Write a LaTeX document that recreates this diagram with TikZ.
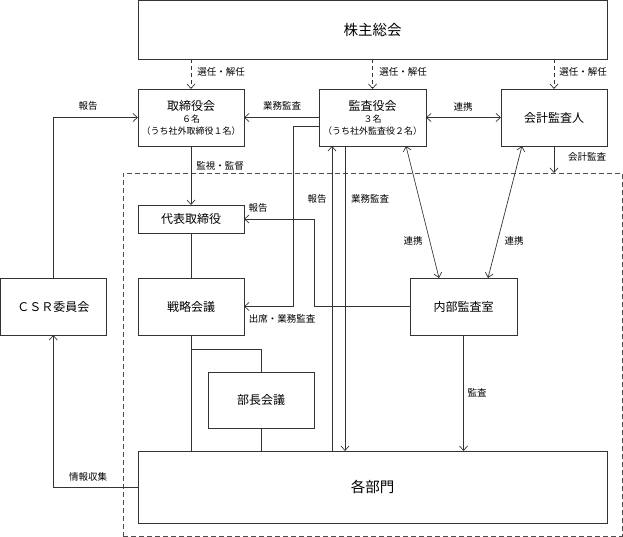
\documentclass[tikz,border=0pt]{standalone}
\usepackage{fontspec}
\setmainfont{Noto Sans CJK JP}
\usetikzlibrary{arrows.meta,calc}
\newcommand\smalljp{\fontsize{9}{12}\selectfont}
\begin{document}
\begin{tikzpicture}[x=1pt,y=-1pt,
  line/.style={draw=black!80,line width=0.7pt},
  box/.style={line,fill=white,inner sep=0pt,outer sep=0pt,align=center,font=\fontsize{12}{12}\selectfont},
  bigbox/.style={box,font=\fontsize{14.5}{16}\selectfont},
  arr/.style={line,-{Straight Barb[length=4.5pt,width=8pt]}},
  arrr/.style={line,{Straight Barb[length=4.5pt,width=8pt]}-{Straight Barb[length=4.5pt,width=8pt]}},
  darr/.style={arr,dash pattern=on 4pt off 3pt},
  frame/.style={draw=black!70,line width=0.7pt,dash pattern=on 5pt off 3pt,inner sep=0pt,outer sep=0pt},
  lbl/.style={font=\fontsize{9.5}{11}\selectfont,inner sep=0pt}]
\useasboundingbox (0,0) rectangle (623,537);
% dashed frame
\node[frame,minimum width=499pt,minimum height=363pt] (frame) at (372.5,354.5) {};
% boxes
\node[bigbox,minimum width=469pt,minimum height=59pt] (kabu) at (372.5,30) {株主総会};
\node[box,minimum width=106pt,minimum height=57pt] (tori) at (191,117.5) {取締役会\\{\smalljp ６名}\\{\smalljp （うち社外取締役１名）}};
\node[box,minimum width=107pt,minimum height=57pt] (kansa) at (372.5,117.5) {監査役会\\{\smalljp ３名}\\{\smalljp （うち社外監査役２名）}};
\node[box,minimum width=106pt,minimum height=57pt] (kaikei) at (554,117.5) {会計監査人};
\node[box,minimum width=106pt,minimum height=28pt] (daihyo) at (191,219) {代表取締役};
\node[box,minimum width=106pt,minimum height=57pt] (senryaku) at (191,306.5) {戦略会議};
\node[box,minimum width=105.5pt,minimum height=57pt] (csr) at (53.25,306.5) {ＣＳＲ委員会};
\node[box,minimum width=107pt,minimum height=57pt] (naibu) at (463.5,306.5) {内部監査室};
\node[box,minimum width=106pt,minimum height=56pt] (bucho) at (261,400) {部長会議};
\node[bigbox,minimum width=469pt,minimum height=72pt] (kakubu) at (372.5,487) {各部門};
% selection arrows
\draw[darr] (tori.north |- kabu.south) -- (tori.north);
\draw[darr] (kansa.north |- kabu.south) -- (kansa.north);
\draw[darr] (kaikei.north |- kabu.south) -- (kaikei.north);
\node[lbl] (l1) at (221,72) {選任・解任};
\node[lbl] (l2) at (403,72) {選任・解任};
\node[lbl] (l3) at (583,72) {選任・解任};
% accounting audit
\draw[arr] (kaikei.south) -- (kaikei.south |- frame.north);
\node[lbl] (l4) at (587,157) {会計監査};
% CSR report
\draw[arr] (csr.north) |- (tori.west);
\node[lbl] (l5) at (88,106) {報告};
% audit to board
\draw[arr] (kansa.west) -- (tori.east);
\node[lbl] (l6) at (282,106) {業務監査};
% attendance
\coordinate (kw) at ($(kansa.west)+(0,8.5)$);
\coordinate (se) at ($(senryaku.east)+(49,0)$);
\draw[arr] (kw) -| (se) -- (senryaku.east);
\node[lbl] (l7) at (282,319) {出席・業務監査};
% supervision
\draw[arr] (tori.south) -- (daihyo.north);
\node[lbl] (l8) at (220,166) {監視・監督};
\draw[line] (daihyo.south) -- (senryaku.north);
\draw[line] (senryaku.south) -- (senryaku.south |- kakubu.north);
\coordinate (sb) at ($(senryaku.south)+(0,14)$);
\draw[line] (sb) -| (bucho.north);
\draw[line] (bucho.south) -- (bucho.south |- kakubu.north);
% information gathering
\draw[arr] (kakubu.west) -| (csr.south);
\node[lbl] (l9) at (88,477) {情報収集};
% internal audit report
\coordinate (nw) at ($(naibu.west)+(-96,0)$);
\draw[arr] (naibu.west) -- (nw) |- (daihyo.east);
\node[lbl] (l10) at (258,208) {報告};
% vertical report / audit
\coordinate (kA) at ($(kansa.south)+(-40.5,0)$);
\coordinate (kB) at ($(kansa.south)+(-27.5,0)$);
\draw[arr] (kA |- kakubu.north) -- (kA);
\node[lbl] (l11) at (317,199) {報告};
\draw[arr] (kB) -- (kB |- kakubu.north);
\node[lbl] (l12) at (370,199) {業務監査};
% cooperation
\draw[arrr] (kansa.east) -- (kaikei.west);
\node[lbl] (l13) at (463,107) {連携};
\coordinate (d1a) at ($(kansa.south)+(33.5,0)$);
\coordinate (d1b) at ($(naibu.north)+(-24.5,0)$);
\draw[arrr] (d1a) -- (d1b);
\node[lbl] (l14) at (413,241) {連携};
\coordinate (d2a) at ($(kaikei.south)+(-32,0)$);
\coordinate (d2b) at ($(naibu.north)+(24.5,0)$);
\draw[arrr] (d2a) -- (d2b);
\node[lbl] (l15) at (514,241) {連携};
% internal audit
\draw[arr] (naibu.south) -- (naibu.south |- kakubu.north);
\node[lbl] (l16) at (477,393) {監査};
\end{tikzpicture}
\end{document}
